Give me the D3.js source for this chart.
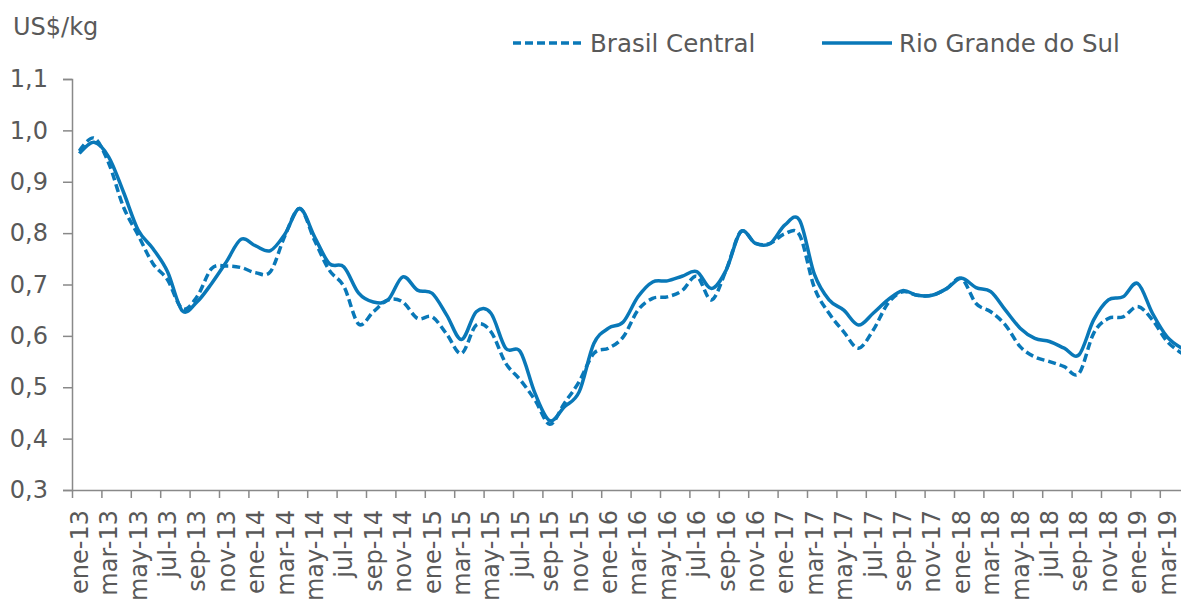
<!DOCTYPE html>
<html>
<head>
<meta charset="utf-8">
<script src="https://cdn.jsdelivr.net/npm/d3@7"></script>
<style>
	body { margin: 0; background: #fff; }
	svg { display: block; overflow: hidden; }
	text { font-family: "DejaVu Sans", sans-serif; fill: #595959; }
</style>
</head>
<body>
<div id="chart-area"></div>
<script>
// month labels, ene-13 .. abr-19
const monthNames = ["ene","feb","mar","abr","may","jun","jul","ago","sep","oct","nov","dic"];
const months = [];
for (let yr = 13; yr <= 19; yr++) {
	monthNames.forEach(m => months.push(m + "-" + yr));
}
months.length = 76;

// US$/kg
const brasilCentral = [
	0.960, 0.985, 0.936, 0.851, 0.796, 0.741, 0.709, 0.653, 0.676, 0.731, 0.736, 0.733,
	0.723, 0.725, 0.796, 0.848, 0.786, 0.728, 0.696, 0.623, 0.647, 0.670, 0.666, 0.634,
	0.637, 0.603, 0.566, 0.621, 0.608, 0.547, 0.514, 0.475, 0.428, 0.469, 0.511, 0.566,
	0.576, 0.598, 0.650, 0.673, 0.676, 0.688, 0.716, 0.670, 0.728, 0.803, 0.780, 0.780,
	0.799, 0.796, 0.694, 0.644, 0.608, 0.576, 0.611, 0.663, 0.686, 0.679, 0.679, 0.692,
	0.712, 0.663, 0.647, 0.621, 0.579, 0.559, 0.550, 0.540, 0.527, 0.605, 0.634, 0.637,
	0.657, 0.631, 0.589, 0.566
];
const rioGrande = [
	0.955, 0.977, 0.948, 0.880, 0.806, 0.770, 0.725, 0.649, 0.666, 0.702, 0.744, 0.788,
	0.775, 0.766, 0.799, 0.848, 0.793, 0.741, 0.734, 0.683, 0.666, 0.670, 0.715, 0.689,
	0.683, 0.640, 0.593, 0.647, 0.644, 0.576, 0.569, 0.488, 0.435, 0.462, 0.491, 0.585,
	0.615, 0.627, 0.676, 0.705, 0.707, 0.716, 0.725, 0.692, 0.728, 0.803, 0.780, 0.780,
	0.816, 0.825, 0.720, 0.670, 0.650, 0.621, 0.644, 0.670, 0.688, 0.679, 0.679, 0.692,
	0.712, 0.694, 0.686, 0.650, 0.615, 0.595, 0.589, 0.576, 0.563, 0.631, 0.670, 0.676,
	0.702, 0.644, 0.598, 0.576
];
const yTicks = [0.3, 0.4, 0.5, 0.6, 0.7, 0.8, 0.9, 1.0, 1.1];

const W = 1181, H = 604;
const color = "#0978B8", axisColor = "#898989";
const plotLeft = 72, catW = 14.7, plotTop = 79, plotBottom = 490;

var svg = d3.select("#chart-area").append("svg")
	.attr("width", W)
	.attr("height", H);

// category index scale, points sit in the middle of each slot
var x = d3.scaleLinear()
	.domain([0, months.length])
	.range([plotLeft, plotLeft + months.length * catW]);
var y = d3.scaleLinear()
	.domain([0.3, 1.1])
	.range([plotBottom, plotTop]);

var fmt = d => d3.format(".1f")(d).replace(".", ",");

// y axis
var yAxis = svg.append("g")
	.attr("transform", "translate(" + plotLeft + ",0)")
	.call(d3.axisLeft(y).tickValues(yTicks).tickFormat(fmt).tickSize(9).tickPadding(15));
yAxis.selectAll("text").style("font-size", "24px").attr("fill", "#595959");

// x axis: ticks between every two months
var xTicks = d3.range(0, months.length + 1, 2);
var xAxis = svg.append("g")
	.attr("transform", "translate(0," + plotBottom + ")")
	.call(d3.axisBottom(x).tickValues(xTicks).tickFormat("").tickSize(8).tickSizeOuter(0));

// x labels on odd slots centre
var xLabels = svg.append("g")
	.attr("transform", "translate(0," + plotBottom + ")")
	.call(d3.axisBottom(x).tickValues(xTicks.slice(0, -1).map(i => i + 0.5))
		.tickFormat(d => months[Math.floor(d)]).tickSize(0));
xLabels.select(".domain").remove();
xLabels.selectAll("text")
	.style("font-size", "24px")
	.attr("fill", "#595959")
	.attr("text-anchor", "end")
	.attr("transform", "rotate(-90)")
	.attr("x", -20)
	.attr("y", 0)
	.attr("dy", "0.33em");

svg.selectAll(".domain, .tick line").attr("stroke", axisColor).attr("stroke-width", 1.5);

var line = d3.line()
	.x((d, i) => x(i + 0.5))
	.y(d => y(d))
	.curve(d3.curveCardinal.tension(0));

svg.append("path")
	.datum(brasilCentral)
	.attr("d", line)
	.attr("fill", "none")
	.attr("stroke", color)
	.attr("stroke-width", 3.5)
	.attr("stroke-dasharray", "8,4");

svg.append("path")
	.datum(rioGrande)
	.attr("d", line)
	.attr("fill", "none")
	.attr("stroke", color)
	.attr("stroke-width", 3.5);

// unit label
svg.append("text")
	.attr("x", 13)
	.attr("y", 35)
	.style("font-size", "24px")
	.text("US$/kg");

// legend
var legend = [
	{name: "Brasil Central", dash: "8,4", x: 513},
	{name: "Rio Grande do Sul", dash: null, x: 822}
];
var lg = svg.selectAll(".legend").data(legend).enter().append("g")
	.attr("class", "legend")
	.attr("transform", d => "translate(" + d.x + ",43)");
lg.append("line")
	.attr("x1", 0).attr("x2", 70)
	.attr("stroke", color)
	.attr("stroke-width", 3.5)
	.attr("stroke-dasharray", d => d.dash);
lg.append("text")
	.attr("x", 77)
	.attr("y", 9)
	.style("font-size", "24.5px")
	.text(d => d.name);
</script>
</body>
</html>
